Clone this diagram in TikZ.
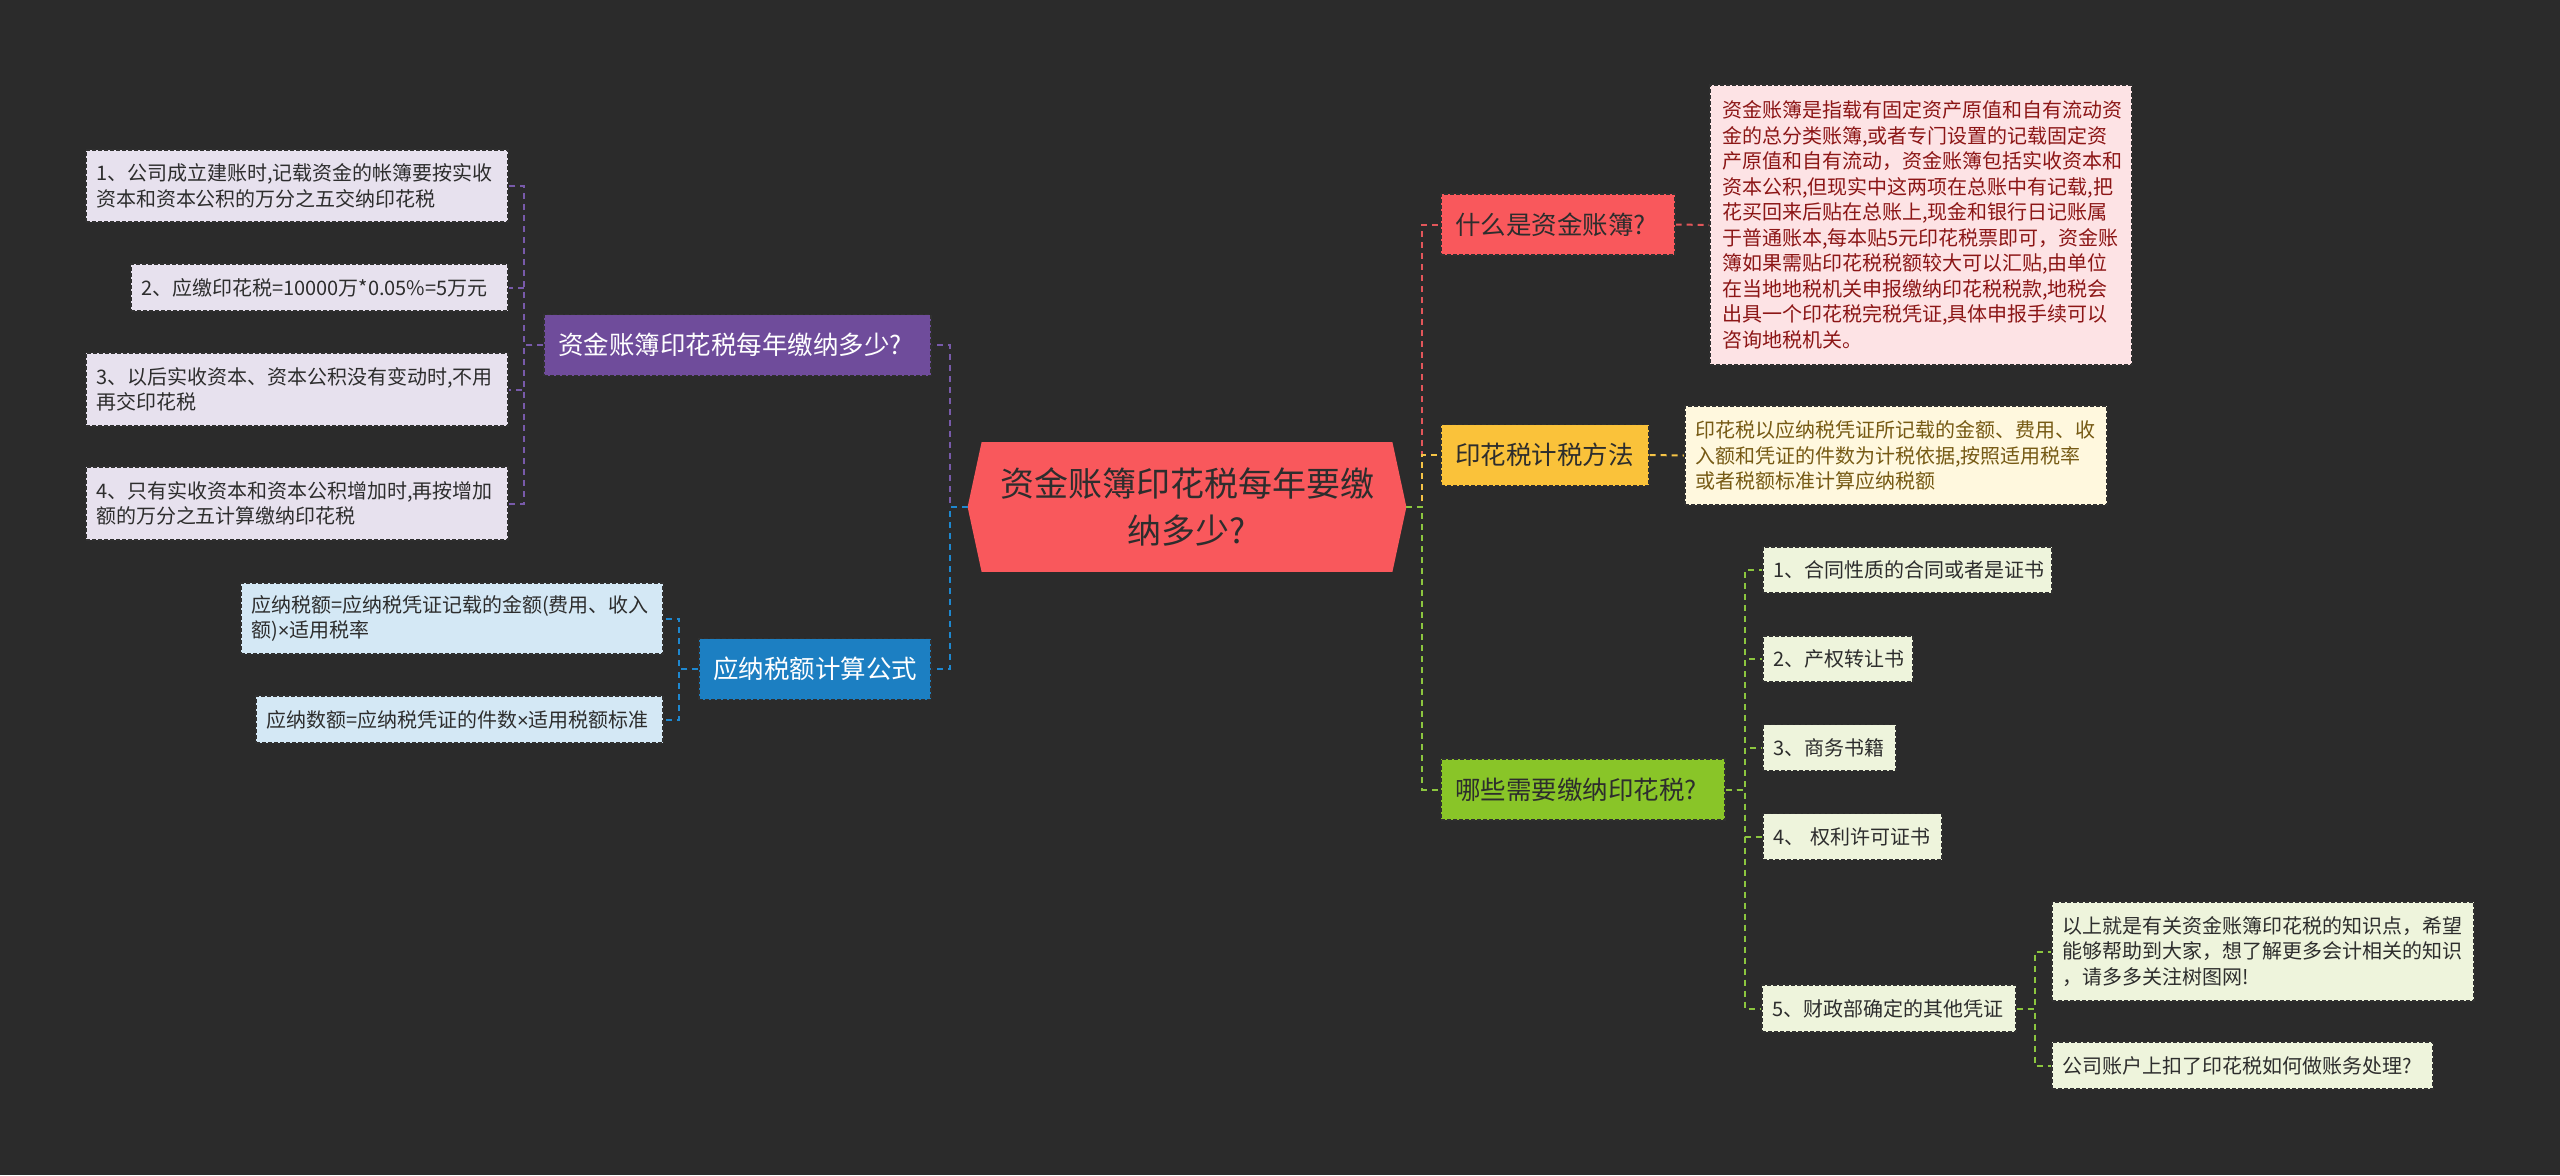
\documentclass[tikz,border=0pt]{standalone}
\usepackage{fontspec}
\setmainfont{Noto Sans CJK SC}
\newfontfamily\latfont{Liberation Sans}
\usetikzlibrary{calc}
\pgfdeclarelayer{bg}
\pgfsetlayers{bg,main}
\definecolor{bgc}{RGB}{43,43,43}
\definecolor{coral}{RGB}{249,88,92}
\definecolor{redfill}{RGB}{253,227,229}
\definecolor{redtxt}{RGB}{140,22,22}
\definecolor{yel}{RGB}{250,194,58}
\definecolor{yelfill}{RGB}{255,248,222}
\definecolor{yeltxt}{RGB}{118,90,20}
\definecolor{grn}{RGB}{137,197,40}
\definecolor{grnfill}{RGB}{238,244,220}
\definecolor{pur}{RGB}{111,76,155}
\definecolor{purfill}{RGB}{231,225,238}
\definecolor{blu}{RGB}{28,127,194}
\definecolor{blufill}{RGB}{212,232,245}
\definecolor{dtxt}{RGB}{45,45,45}
\definecolor{edge}{RGB}{48,48,48}
\definecolor{redline}{RGB}{226,86,90}
\definecolor{yelline}{RGB}{245,195,70}
\definecolor{grnline}{RGB}{140,198,63}
\definecolor{purline}{RGB}{120,90,170}
\definecolor{bluline}{RGB}{30,136,208}
\begin{document}
\begin{tikzpicture}[x=0.5pt,y=-0.5pt,
  box/.style={draw=edge, line width=0.6pt, dash pattern=on 2pt off 1pt, inner ysep=0pt, align=left},
  leaf/.style={box, inner xsep=5pt, text=dtxt, font=\fontsize{10}{12.75}\selectfont},
  topic/.style={box, inner xsep=7pt, minimum height=30.5pt, font=\fontsize{12.75}{16}\selectfont},
  link/.style={line width=1pt, dash pattern=on 3pt off 2.5pt},
]
\useasboundingbox (0,0) rectangle (2560,1175);

% centre
\node[text=dtxt, align=center, font=\fontsize{17}{23.3}\selectfont, minimum width=219pt, minimum height=64.5pt, inner sep=0pt] (c) at (1187,507) {资金账簿印花税每年要缴\\纳多少?};

% level 1
\node[topic, fill=coral, text=dtxt, text width=103pt] (q1) at (1558,224.5) {什么是资金账簿?};
\node[topic, fill=yel, text=dtxt, text width=90pt] (q2) at (1545,455) {印花税计税方法};
\node[topic, fill=grn, text=dtxt, text width=128pt] (q3) at (1583,789.5) {哪些需要缴纳印花税?};
\node[topic, fill=pur, text=white, text width=179.5pt] (p) at (737.5,345) {资金账簿印花税每年缴纳多少?};
\node[topic, fill=blu, text=white, text width=102pt] (b) at (815,669) {应纳税额计算公式};

% descriptions
\node[leaf, fill=redfill, text=redtxt, inner xsep=6pt, text width=199pt, minimum height=140pt] (rd) at (1921,225) {资金账簿是指载有固定资产原值和自有流动资\\金的总分类账簿,或者专门设置的记载固定资\\产原值和自有流动，资金账簿包括实收资本和\\资本公积,但现实中这两项在总账中有记载,把\\花买回来后贴在总账上,现金和银行日记账属\\于普通账本,每本贴5元印花税票即可，资金账\\簿如果需贴印花税税额较大可以汇贴,由单位\\在当地地税机关申报缴纳印花税税款,地税会\\出具一个印花税完税凭证,具体申报手续可以\\咨询地税机关。};
\node[leaf, fill=yelfill, text=yeltxt, text width=201pt, minimum height=49.5pt] (yd) at (1896,455.5) {印花税以应纳税凭证所记载的金额、费用、收\\入额和凭证的件数为计税依据,按照适用税率\\或者税额标准计算应纳税额};

% green leaves
\node[leaf, fill=grnfill, text width=134.5pt, minimum height=23pt] (g1) at (1907.5,570) {1、合同性质的合同或者是证书};
\node[leaf, fill=grnfill, text width=65pt, minimum height=23pt] (g2) at (1838,659) {2、产权转让书};
\node[leaf, fill=grnfill, text width=56.5pt, minimum height=23pt] (g3) at (1829.5,747.5) {3、商务书籍};
\node[leaf, fill=grnfill, text width=79.5pt, minimum height=23pt] (g4) at (1852.5,836.5) {4、 权利许可证书};
\node[leaf, fill=grnfill, text width=117pt, minimum height=23.5pt] (g5) at (1889,1008.5) {5、财政部确定的其他凭证};
\node[leaf, fill=grnfill, text width=201pt, minimum height=49.5pt] (g6) at (2263,951.5) {以上就是有关资金账簿印花税的知识点，希望\\能够帮助到大家，想了解更多会计相关的知识\\，请多多关注树图网!};
\node[leaf, fill=grnfill, text width=180.5pt, minimum height=23.5pt] (g7) at (2242.5,1065.5) {公司账户上扣了印花税如何做账务处理?};

% purple leaves
\node[leaf, fill=purfill, text width=201pt, minimum height=36pt] (l1) at (297,186) {1、公司成立建账时,记载资金的帐簿要按实收\\资本和资本公积的万分之五交纳印花税};
\node[leaf, fill=purfill, text width=178.5pt, minimum height=23.5pt] (l2) at (319.5,287.5) {2、应缴印花税=10000万*0.05\%=5万元};
\node[leaf, fill=purfill, text width=201pt, minimum height=36.5pt] (l3) at (297,389.5) {3、以后实收资本、资本公积没有变动时,不用\\再交印花税};
\node[leaf, fill=purfill, text width=201pt, minimum height=36.5pt] (l4) at (297,503.5) {4、只有实收资本和资本公积增加时,再按增加\\额的万分之五计算缴纳印花税};

% blue leaves
\node[leaf, fill=blufill, text width=201pt, minimum height=35.5pt] (b1) at (452,618.5) {应纳税额=应纳税凭证记载的金额(费用、收入\\额){\latfont ×}适用税率};
\node[leaf, fill=blufill, text width=193.5pt, minimum height=23.5pt] (b2) at (459.5,719.5) {应纳数额=应纳税凭证的件数{\latfont ×}适用税额标准};

\begin{pgfonlayer}{bg}
\fill[bgc] (0,0) rectangle (2560,1175);
\fill[coral] (c.west) -- ($(c.north west)+(14,0)$) -- ($(c.north east)+(-14,0)$) -- (c.east) -- ($(c.south east)+(-14,0)$) -- ($(c.south west)+(14,0)$) -- cycle;
% left main branches
\draw[link, purline] (c.west) -- ++(-18,0) |- (p.east);
\draw[link, bluline] (c.west) -- ++(-18,0) |- (b.east);
% right main branches
\draw[link, redline] (c.east) -- ++(16,0) |- (q1.west);
\draw[link, yelline] (c.east) -- ++(16,0) |- (q2.west);
\draw[link, grnline] (c.east) -- ++(16,0) |- (q3.west);
% descriptions
\draw[link, redline] (q1.east) -- (rd.west);
\draw[link, yelline] (q2.east) -- (yd.west);
% purple leaves
\foreach \n in {l1,l2,l3,l4}
  \draw[link, purline] (p.west) -- ++(-19,0) |- (\n.east);
% blue leaves
\foreach \n in {b1,b2}
  \draw[link, bluline] (b.west) -- ++(-19,0) |- (\n.east);
% green leaves
\foreach \n in {g1,g2,g3,g4,g5}
  \draw[link, grnline] (q3.east) -- ++(19,0) |- (\n.west);
\foreach \n in {g6,g7}
  \draw[link, grnline] (g5.east) -- ++(18,0) |- (\n.west);
\end{pgfonlayer}
\end{tikzpicture}
\end{document}
